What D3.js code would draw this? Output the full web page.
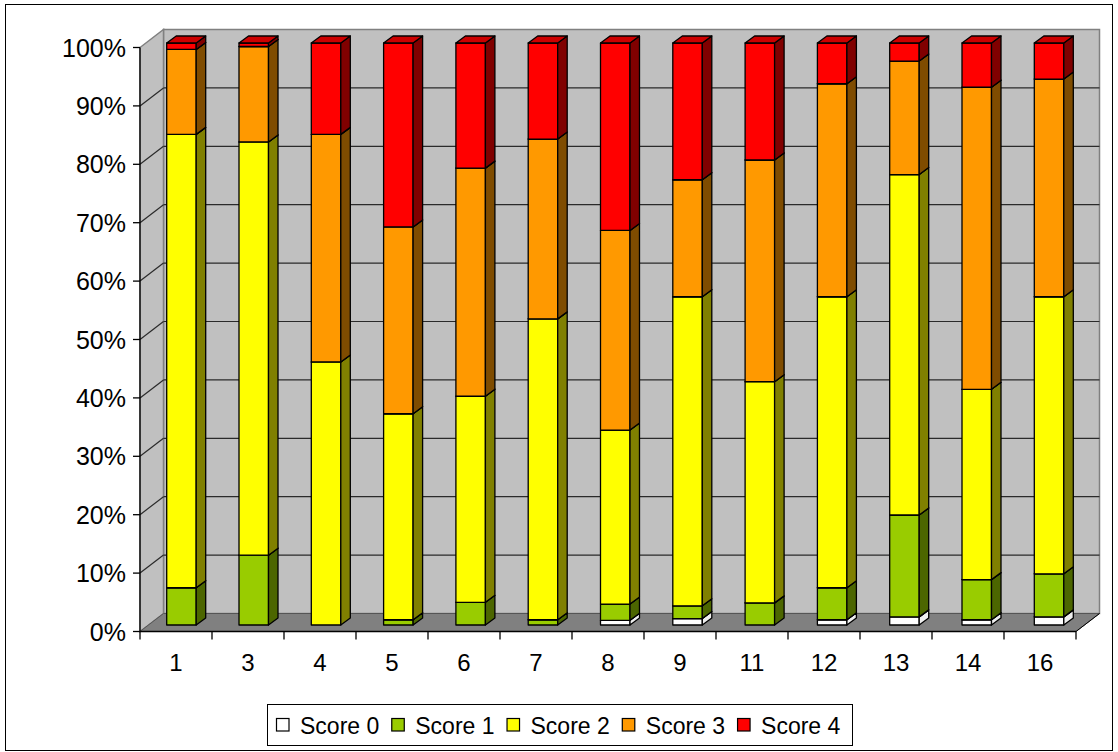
<!DOCTYPE html>
<html>
<head>
<meta charset="utf-8">
<script src="https://cdn.jsdelivr.net/npm/d3@7"></script>
<style>
  html, body { margin: 0; padding: 0; background: #ffffff; }
  svg { display: block; }
  text { font-family: "Liberation Sans", Arial, sans-serif; fill: #000; }
</style>
</head>
<body>
<svg id="chart" width="1118" height="752"></svg>
<script>
// Share of each score per item (percent of the item's total)
const categories = ["1", "3", "4", "5", "6", "7", "8", "9", "11", "12", "13", "14", "16"];
const seriesNames = ["Score 0", "Score 1", "Score 2", "Score 3", "Score 4"];
const score0 = [0, 0, 0, 0, 0, 0, 0.8, 1.1, 0, 0.9, 1.4, 0.9, 1.4];
const score1 = [6.4, 12.0, 0, 0.9, 3.9, 0.9, 2.8, 2.2, 3.8, 5.5, 17.5, 6.9, 7.4];
const score2 = [77.9, 71.0, 45.2, 35.4, 35.4, 51.7, 29.9, 53.1, 38.0, 50.0, 58.5, 32.7, 47.6];
const score3 = [14.6, 16.4, 39.1, 32.1, 39.2, 30.9, 34.3, 20.1, 38.1, 36.6, 19.5, 51.9, 37.4];
const score4 = [1.1, 0.6, 15.7, 31.6, 21.5, 16.5, 32.2, 23.5, 20.1, 7.0, 3.1, 7.6, 6.2];
const yTickValues = [0, 10, 20, 30, 40, 50, 60, 70, 80, 90, 100];
const yTickLabels = ["0%", "10%", "20%", "30%", "40%", "50%", "60%", "70%", "80%", "90%", "100%"];

// Face colours: front, side, top
const frontColors = ["#FFFFFF", "#99CC00", "#FFFF00", "#FF9900", "#FF0000"];
const sideColors  = ["#EFEFEF", "#4C6600", "#808000", "#7F4C00", "#800000"];
const topColors   = ["#F5F5F5", "#7AA300", "#CCCC00", "#CC7A00", "#CC0000"];

const rows = categories.map((c, i) => ({
  cat: c,
  "Score 0": score0[i], "Score 1": score1[i], "Score 2": score2[i],
  "Score 3": score3[i], "Score 4": score4[i]
}));

const svg = d3.select("#chart");

// Chart frame
svg.append("rect").attr("x", 5.5).attr("y", 4.5).attr("width", 1107).attr("height", 746)
  .attr("fill", "#fff").attr("stroke", "#000").attr("stroke-width", 1);

// Oblique 3D geometry: front plane and depth offset of the back wall
const front = { left: 140, right: 1076 };
const depth = { dx: 23.5, dy: -18 };
const yFront = d3.scaleLinear().domain([0, 100]).range([631.5, 47.5]);
const yBack = v => yFront(v) + depth.dy;
const xFront = d3.scaleBand().domain(categories).range([front.left, front.right]);

// Bars sit part-way into the depth
const yBar = d3.scaleLinear().domain([0, 100]).range([625, 43]);
const xBar = d3.scaleBand().domain(categories).range([145.3, 1085.2]);
const barW = 29.5, bdx = 9.5, bdy = -7;

const walls = svg.append("g");
const bx0 = front.left + depth.dx, bx1 = front.right + depth.dx;

// Back wall
walls.append("rect").attr("x", bx0).attr("y", yBack(100))
  .attr("width", bx1 - bx0).attr("height", yBack(0) - yBack(100))
  .attr("fill", "#C0C0C0").attr("stroke", "#808080").attr("stroke-width", 1.5);
// Side wall
walls.append("path")
  .attr("d", `M${front.left},${yFront(0)}L${front.left},${yFront(100)}L${bx0},${yBack(100)}L${bx0},${yBack(0)}Z`)
  .attr("fill", "#C0C0C0").attr("stroke", "#808080").attr("stroke-width", 1.5);

// Gridlines on back and side walls
const gridVals = yTickValues.filter(v => v > 0 && v < 100);
walls.selectAll("line.gb").data(gridVals).join("line").attr("class", "gb")
  .attr("x1", bx0).attr("x2", bx1).attr("y1", d => yBack(d)).attr("y2", d => yBack(d))
  .attr("stroke", "#2a2a2a").attr("stroke-width", 1.2);
walls.selectAll("line.gs").data(gridVals).join("line").attr("class", "gs")
  .attr("x1", front.left).attr("x2", bx0).attr("y1", d => yFront(d)).attr("y2", d => yBack(d))
  .attr("stroke", "#2a2a2a").attr("stroke-width", 1.2);

// Floor
walls.append("path")
  .attr("d", `M${front.left},${yFront(0)}L${bx0},${yBack(0)}L${bx1},${yBack(0)}L${front.right},${yFront(0)}Z`)
  .attr("fill", "#808080").attr("stroke", "#555").attr("stroke-width", 1);

// Axes
const axes = svg.append("g");
axes.append("line").attr("x1", front.left).attr("x2", front.left)
  .attr("y1", yFront(0)).attr("y2", yFront(100)).attr("stroke", "#000").attr("stroke-width", 1.3);
axes.selectAll("line.yt").data(yTickValues).join("line").attr("class", "yt")
  .attr("x1", front.left - 7).attr("x2", front.left)
  .attr("y1", d => yFront(d)).attr("y2", d => yFront(d))
  .attr("stroke", "#000").attr("stroke-width", 1.3);
axes.selectAll("text.yl").data(yTickValues).join("text").attr("class", "yl")
  .attr("x", front.left - 14).attr("y", d => yFront(d))
  .attr("text-anchor", "end").attr("dominant-baseline", "central")
  .style("font-size", "25px")
  .text((d, i) => yTickLabels[i]);

axes.append("line").attr("x1", front.left).attr("x2", front.right)
  .attr("y1", yFront(0)).attr("y2", yFront(0)).attr("stroke", "#000").attr("stroke-width", 1.5);
axes.append("line").attr("x1", front.right).attr("x2", bx1)
  .attr("y1", yFront(0)).attr("y2", yBack(0)).attr("stroke", "#000").attr("stroke-width", 1);
const xTickPos = categories.map(c => xFront(c)).concat([front.right]);
axes.selectAll("line.xt").data(xTickPos).join("line").attr("class", "xt")
  .attr("x1", d => d).attr("x2", d => d)
  .attr("y1", yFront(0)).attr("y2", yFront(0) + 8)
  .attr("stroke", "#000").attr("stroke-width", 1.3);
axes.selectAll("text.xl").data(categories).join("text").attr("class", "xl")
  .attr("x", d => xFront(d) + xFront.bandwidth() / 2).attr("y", 671)
  .attr("text-anchor", "middle").style("font-size", "24px")
  .text(d => d);

// Stacked 3D bars
const stacked = d3.stack().keys(seriesNames)(rows);
const bars = svg.append("g");
categories.forEach((c, ci) => {
  const x = xBar(c) + (xBar.bandwidth() - barW) / 2;
  const g = bars.append("g");
  stacked.forEach((layer, si) => {
    const [v0, v1] = layer[ci];
    if (v1 - v0 <= 0) return;
    const yb = yBar(v0), yt = yBar(v1);
    const stroke = { stroke: "#000", "stroke-width": 1.3, "stroke-linejoin": "round" };
    const face = g.append("rect").attr("x", x).attr("y", yt).attr("width", barW).attr("height", yb - yt)
      .attr("fill", frontColors[si]);
    const side = g.append("path")
      .attr("d", `M${x + barW},${yb}L${x + barW + bdx},${yb + bdy}L${x + barW + bdx},${yt + bdy}L${x + barW},${yt}Z`)
      .attr("fill", sideColors[si]);
    const top = g.append("path")
      .attr("d", `M${x},${yt}L${x + bdx},${yt + bdy}L${x + barW + bdx},${yt + bdy}L${x + barW},${yt}Z`)
      .attr("fill", topColors[si]);
    [face, side, top].forEach(s => Object.entries(stroke).forEach(([k, v]) => s.attr(k, v)));
  });
});

// Legend
const legend = svg.append("g");
legend.append("rect").attr("x", 267.5).attr("y", 704.5).attr("width", 585).attr("height", 41)
  .attr("fill", "#fff").attr("stroke", "#000").attr("stroke-width", 1);
let lx = 276.5;
seriesNames.forEach((name, i) => {
  legend.append("rect").attr("x", lx).attr("y", 718.5).attr("width", 12.5).attr("height", 12.5)
    .attr("fill", frontColors[i]).attr("stroke", "#000").attr("stroke-width", 1.2);
  const t = legend.append("text")
    .attr("x", lx + 23.5).attr("y", 733.5)
    .style("font-size", "23px").text(name);
  lx += 23.5 + t.node().getComputedTextLength() + 12.5;
});
</script>
</body>
</html>
